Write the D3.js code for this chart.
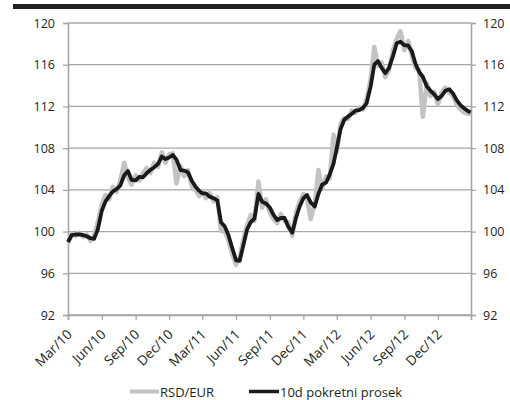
<!DOCTYPE html>
<html><head><meta charset="utf-8">
<script src="https://cdn.jsdelivr.net/npm/d3@7"></script>
<style>body{margin:0;background:#fff;} svg{display:block;}</style>
</head><body>
<svg id="c" width="510" height="400"></svg>
<script>
const dates = [
"2010-03-01","2010-03-11","2010-03-21","2010-04-01","2010-04-11","2010-04-21","2010-05-01","2010-05-11","2010-05-21",
"2010-06-01","2010-06-11","2010-06-21","2010-07-01","2010-07-11","2010-07-21","2010-08-01","2010-08-11","2010-08-21",
"2010-09-01","2010-09-11","2010-09-21","2010-10-01","2010-10-11","2010-10-21","2010-11-01","2010-11-11","2010-11-21",
"2010-12-01","2010-12-11","2010-12-21","2011-01-01","2011-01-11","2011-01-21","2011-02-01","2011-02-11","2011-02-21",
"2011-03-01","2011-03-11","2011-03-21","2011-04-01","2011-04-11","2011-04-21","2011-05-01","2011-05-11","2011-05-21",
"2011-06-01","2011-06-11","2011-06-21","2011-07-01","2011-07-11","2011-07-21","2011-08-01","2011-08-11","2011-08-21",
"2011-09-01","2011-09-11","2011-09-21","2011-10-01","2011-10-11","2011-10-21","2011-11-01","2011-11-11","2011-11-21",
"2011-12-01","2011-12-11","2011-12-21","2012-01-01","2012-01-11","2012-01-21","2012-02-01","2012-02-11","2012-02-21",
"2012-03-01","2012-03-11","2012-03-21","2012-04-01","2012-04-11","2012-04-21","2012-05-01","2012-05-11","2012-05-21",
"2012-06-01","2012-06-11","2012-06-21","2012-07-01","2012-07-11","2012-07-21","2012-08-01","2012-08-11","2012-08-21",
"2012-09-01","2012-09-11","2012-09-21","2012-10-01","2012-10-11","2012-10-21","2012-11-01","2012-11-11","2012-11-21",
"2012-12-01","2012-12-11","2012-12-21","2013-01-01","2013-01-11","2013-01-21","2013-02-01","2013-02-11","2013-02-21",
"2013-02-28"];

const rsdEur = [
98.9,99.8,99.6,99.9,99.5,99.7,99.1,99.6,100.9,
102.6,103.5,103.1,104.3,103.8,104.9,106.6,105.2,104.5,
105.4,104.9,105.6,106.1,105.6,106.6,106.2,107.6,106.6,
107.4,107.5,104.6,106.3,105.3,105.9,104.3,104.0,103.4,
103.9,103.2,103.7,102.9,103.3,100.1,100.0,99.2,97.9,
96.8,97.6,99.3,100.6,101.6,101.0,104.8,102.3,103.1,
101.8,101.2,100.8,101.7,101.0,100.9,99.6,101.8,102.9,
103.6,103.2,101.2,102.6,105.9,104.1,105.3,105.1,109.3,
107.6,110.3,110.9,110.8,111.6,111.4,111.9,111.7,112.7,
114.6,117.7,115.9,116.2,114.8,115.5,117.4,118.5,119.2,
117.4,118.3,116.9,115.7,115.5,111.0,114.2,113.0,113.4,
112.2,113.3,113.8,113.3,113.0,112.2,111.7,111.4,111.3,
111.3];

const ma10 = [
99.0,99.65,99.72,99.74,99.66,99.55,99.36,99.3,100.2,
102.0,102.9,103.4,103.85,104.07,104.4,105.4,105.8,104.95,
104.9,105.25,105.2,105.6,105.9,106.15,106.5,107.2,106.95,
107.1,107.34,106.9,105.9,105.85,105.7,104.85,104.3,103.9,
103.67,103.67,103.35,103.2,103.0,100.9,100.5,99.7,98.5,
97.25,97.2,98.7,100.2,100.9,101.25,103.6,102.85,102.7,
102.3,101.6,101.1,101.3,101.3,100.47,99.9,101.3,102.4,
103.2,103.5,102.8,102.4,103.6,104.5,104.7,105.5,106.5,
108.0,109.8,110.7,111.05,111.3,111.6,111.65,111.85,112.3,
113.9,116.0,116.35,115.7,115.18,115.7,116.85,118.05,118.2,
117.85,117.85,117.3,116.1,115.3,114.85,113.9,113.5,113.15,
112.7,113.0,113.5,113.65,113.25,112.6,112.1,111.8,111.55,
111.45];

const yTicks = [92, 96, 100, 104, 108, 112, 116, 120];
const xTickDates = ["2010-03-01","2010-06-01","2010-09-01","2010-12-01","2011-03-01","2011-06-01",
  "2011-09-01","2011-12-01","2012-03-01","2012-06-01","2012-09-01","2012-12-01"];
const xTickLabels = ["Mar/10","Jun/10","Sep/10","Dec/10","Mar/11","Jun/11",
  "Sep/11","Dec/11","Mar/12","Jun/12","Sep/12","Dec/12"];
const seriesNames = ["RSD/EUR", "10d pokretni prosek"];

const parse = d3.timeParse("%Y-%m-%d");
const svg = d3.select("#c");
const font = "'Open Sans', 'Noto Sans', sans-serif";
const plotL = 68, plotR = 471, plotT = 23, plotB = 315;

const x = d3.scaleTime().domain([parse("2010-03-01"), parse("2013-03-01")]).range([plotL, plotR]);
const y = d3.scaleLinear().domain([92, 120]).range([plotB, plotT]);

svg.append("rect").attr("x", 13).attr("y", 4).attr("width", 497).attr("height", 5).attr("fill", "#231f20");

const gridColor = "#a6a6a6";
svg.append("g").selectAll("line").data(yTicks).join("line")
  .attr("x1", plotL).attr("x2", plotR)
  .attr("y1", d => y(d)).attr("y2", d => y(d))
  .attr("stroke", gridColor).attr("stroke-width", 1.3);

const gL = svg.append("g").attr("transform", `translate(${plotL},0)`)
  .call(d3.axisLeft(y).tickValues(yTicks).tickSize(5).tickPadding(8));
const gR = svg.append("g").attr("transform", `translate(${plotR},0)`)
  .call(d3.axisRight(y).tickValues(yTicks).tickSize(5).tickPadding(7));
const gB = svg.append("g").attr("transform", `translate(0,${plotB})`)
  .call(d3.axisBottom(x).tickValues(xTickDates.map(parse)).tickSize(5)
    .tickFormat((d, i) => xTickLabels[i]));

[gL, gR, gB].forEach(g => {
  g.select(".domain").attr("stroke", gridColor).attr("stroke-width", 1.6);
  g.selectAll(".tick line").attr("stroke", gridColor).attr("stroke-width", 1.3);
  g.selectAll("text").attr("fill", "#231f20").style("font-family", font).style("font-size", "12.5px");
});
gB.selectAll("text")
  .style("font-size", "13.5px")
  .attr("text-anchor", "end")
  .attr("transform", "translate(1,17) rotate(-45)")
  .attr("dy", "0.35em").attr("dx", "0").attr("y", 0);

const data = dates.map((d, i) => ({ date: parse(d), a: rsdEur[i], b: ma10[i] }));

svg.append("path").datum(data)
  .attr("fill", "none").attr("stroke", "#c3c3c3").attr("stroke-width", 4.5)
  .attr("stroke-linejoin", "round")
  .attr("d", d3.line().x(d => x(d.date)).y(d => y(d.a)));
svg.append("path").datum(data)
  .attr("fill", "none").attr("stroke", "#1a1a1a").attr("stroke-width", 3.8)
  .attr("stroke-linejoin", "round")
  .attr("d", d3.line().x(d => x(d.date)).y(d => y(d.b)));

const leg = svg.append("g");
leg.append("line").attr("x1", 130).attr("x2", 159).attr("y1", 391.5).attr("y2", 391.5)
  .attr("stroke", "#c3c3c3").attr("stroke-width", 4);
leg.append("text").attr("x", 160).attr("y", 397).text(seriesNames[0])
  .style("font-family", font).style("font-size", "13px").attr("fill", "#231f20");
leg.append("line").attr("x1", 249).attr("x2", 279).attr("y1", 391.5).attr("y2", 391.5)
  .attr("stroke", "#1a1a1a").attr("stroke-width", 3.5);
leg.append("text").attr("x", 280).attr("y", 397).text(seriesNames[1])
  .style("font-family", font).style("font-size", "13px").attr("fill", "#231f20");
</script>
</body></html>
